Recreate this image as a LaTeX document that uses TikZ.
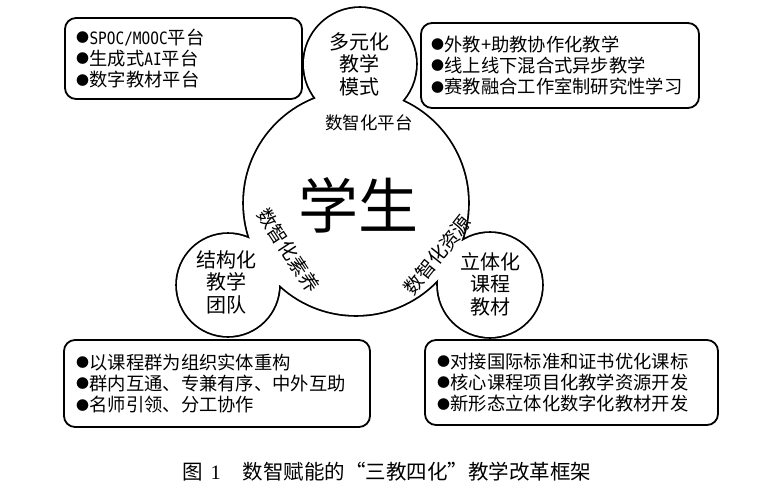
\documentclass[tikz,border=0pt]{standalone}
\usepackage{fontspec}
\setmainfont{Noto Sans CJK SC}
\newfontfamily\numfont{Liberation Serif}
\newfontfamily\halfmono[FakeStretch=0.85]{DejaVu Sans Mono}
\newcommand\bul{\raisebox{1.6pt}{\fontsize{13}{13}\selectfont ●}\hspace{0.5pt}}
\newcommand\hw[1]{{\fontsize{17}{17}\halfmono #1}}
\begin{document}
\begin{tikzpicture}[x=1pt,y=-1pt,
  ringtext/.style={font=\fontsize{20}{22.5}\selectfont, align=center, inner sep=0pt},
  listbox/.style={draw, line width=1.8pt, rounded corners=11pt, align=left,
     font=\fontsize{18.3}{21.3}\selectfont, inner ysep=0pt, anchor=center},
  slant/.style={font=\fontsize{19}{20}\selectfont, inner sep=0pt}
]
\useasboundingbox (0,0) rectangle (778,492);
\fill[white] (0,0) rectangle (778,492);
% centres
\coordinate (cbig) at (356,203);
\coordinate (ctop) at (360,64);
\coordinate (cleft) at (228,285);
\coordinate (cright) at (490,285);
% union outline: thick strokes, then white fills
\draw[line width=3.6pt] (cbig) circle (112) (ctop) circle (56) (cleft) circle (51) (cright) circle (52);
\fill[white] (cbig) circle (112) (ctop) circle (56) (cleft) circle (51) (cright) circle (52);
% circle texts
\node[ringtext] (ttop) at (359,64) {多元化\\教学\\模式};
\node[ringtext] (tleft) at (226,282) {结构化\\教学\\团队};
\node[ringtext] (tright) at (490,284) {立体化\\课程\\教材};
\node[inner sep=0pt, font=\fontsize{60}{60}\selectfont] (stu) at (358,205) {学生};
\node[font=\fontsize{17.5}{20}\selectfont, inner sep=0pt] (plat) at (369,123) {数智化平台};
\node[slant, rotate=-56.5] (lit) at (288.5,250.5) {数智化素养};
\node[slant, rotate=51.5] (res) at (437.5,255) {数智化资源};
% boxes
\node[listbox, minimum width=233pt, minimum height=81pt, text width=215pt, inner xsep=11pt] (b1) at (183.5,58.5)
  {\bul\hw{SPOC/MOOC}平台\\\bul 生成式\hw{AI}平台\\\bul 数字教材平台};
\node[listbox, minimum width=274pt, minimum height=85pt, text width=258pt, inner xsep=10pt] (b2) at (560,65.5)
  {\bul 外教+助教协作化教学\\\bul 线上线下混合式异步教学\\\bul 赛教融合工作室制研究性学习};
\node[listbox, minimum width=300pt, minimum height=87pt, text width=282pt, inner xsep=12pt] (b3) at (217,383.5)
  {\bul 以课程群为组织实体重构\\\bul 群内互通、专兼有序、中外互助\\\bul 名师引领、分工协作};
\node[listbox, minimum width=287pt, minimum height=85pt, text width=269pt, inner xsep=12pt] (b4) at (571.5,382.5)
  {\bul 对接国际标准和证书优化课标\\\bul 核心课程项目化教学资源开发\\\bul 新形态立体化数字化教材开发};
% caption
\node[font=\fontsize{20.5}{22}\selectfont, inner sep=0pt, anchor=west] (cap) at (182,472)
  {图\hspace{8pt}{\numfont 1}\hspace{22pt}数智赋能的“三教四化”教学改革框架};
\end{tikzpicture}
\end{document}
